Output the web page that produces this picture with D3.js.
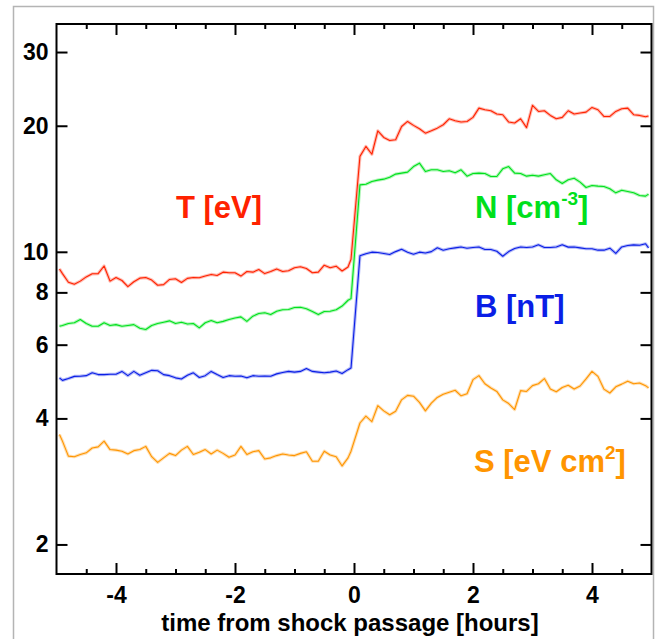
<!DOCTYPE html>
<html>
<head>
<meta charset="utf-8">
<script src="https://cdn.jsdelivr.net/npm/d3@7/dist/d3.min.js"></script>
<style>
  html, body { margin: 0; padding: 0; background: #fff; }
  svg { display: block; }
  text { font-family: "Liberation Sans", Arial, Helvetica, sans-serif; font-weight: bold; }
</style>
</head>
<body>
<script>
// Hours relative to shock passage (6-minute samples, shock between -0.05 h and 0.1 h)
const hours = [
  -4.95, -4.9, -4.8, -4.7, -4.6, -4.5, -4.4, -4.3, -4.2, -4.1,
  -4.0, -3.9, -3.8, -3.7, -3.6, -3.5, -3.4, -3.3, -3.2, -3.1,
  -3.0, -2.9, -2.8, -2.7, -2.6, -2.5, -2.4, -2.3, -2.2, -2.1,
  -2.0, -1.9, -1.8, -1.7, -1.6, -1.5, -1.4, -1.3, -1.2, -1.1,
  -1.0, -0.9, -0.8, -0.7, -0.6, -0.5, -0.4, -0.3, -0.2, -0.1,
  -0.05,
  0.1, 0.2, 0.3, 0.4, 0.5, 0.6, 0.7, 0.8, 0.9, 1.0,
  1.1, 1.2, 1.3, 1.4, 1.5, 1.6, 1.7, 1.8, 1.9, 2.0,
  2.1, 2.2, 2.3, 2.4, 2.5, 2.6, 2.7, 2.8, 2.9, 3.0,
  3.1, 3.2, 3.3, 3.4, 3.5, 3.6, 3.7, 3.8, 3.9, 4.0,
  4.1, 4.2, 4.3, 4.4, 4.5, 4.6, 4.7, 4.8, 4.9,
  4.95
];

// Electron temperature T [eV]
const temperature = [
  9.10, 8.87, 8.46, 8.37, 8.51, 8.71, 8.86, 8.87, 9.25, 8.51,
  8.68, 8.54, 8.26, 8.48, 8.65, 8.68, 8.56, 8.32, 8.35, 8.59,
  8.62, 8.45, 8.64, 8.68, 8.67, 8.75, 8.83, 8.78, 8.94, 8.91,
  8.91, 8.75, 8.97, 8.94, 9.07, 8.87, 8.97, 9.10, 8.97, 9.01,
  9.16, 9.21, 9.12, 8.91, 8.94, 9.29, 9.16, 9.24, 9.00, 9.20,
  9.60,
  16.9, 17.85, 17.1, 19.45, 18.76, 18.45, 18.52, 19.92, 20.48, 20.04,
  19.67, 19.2, 19.45, 19.74, 20.11, 20.78, 20.55, 20.41, 20.48, 20.94,
  22.04, 21.84, 21.72, 21.33, 21.25, 20.41, 20.3, 20.78, 19.8, 22.37,
  21.64, 21.72, 21.17, 20.78, 20.94, 21.72, 21.33, 21.45, 21.56, 22.12,
  21.84, 21.05, 21.05, 21.64, 21.96, 22.04, 21.25, 21.17, 21.02,
  21.1
];

// Density N [cm^-3]
const density = [
  6.64, 6.67, 6.74, 6.77, 6.89, 6.74, 6.64, 6.64, 6.77, 6.67,
  6.70, 6.64, 6.67, 6.70, 6.57, 6.52, 6.67, 6.74, 6.79, 6.84,
  6.74, 6.79, 6.72, 6.74, 6.58, 6.77, 6.85, 6.77, 6.82, 6.89,
  6.95, 6.99, 6.82, 7.02, 7.12, 7.15, 7.08, 7.21, 7.27, 7.28,
  7.36, 7.37, 7.31, 7.20, 7.08, 7.20, 7.21, 7.27, 7.42, 7.66,
  7.73,
  14.45, 14.5, 14.72, 14.83, 14.91, 15.07, 15.33, 15.41, 15.5, 15.98,
  16.28, 15.55, 15.7, 15.7, 15.55, 15.61, 15.44, 15.7, 15.16, 15.38,
  15.41, 15.38, 15.13, 15.13, 15.78, 15.98, 15.41, 15.38, 15.16, 15.24,
  15.16, 15.27, 15.38, 14.86, 14.56, 14.86, 14.99, 14.67, 14.24, 14.4,
  14.35, 14.32, 14.14, 13.83, 14.03, 13.93, 13.83, 13.63, 13.58,
  13.73
];

// Magnetic field B [nT]
const field = [
  5.00, 4.93, 4.98, 5.04, 5.045, 5.06, 5.14, 5.09, 5.09, 5.10,
  5.10, 5.18, 5.06, 5.18, 5.07, 5.14, 5.21, 5.20, 5.09, 5.06,
  5.00, 4.97, 5.07, 5.14, 5.01, 5.06, 5.18, 5.09, 5.01, 5.06,
  5.045, 5.05, 5.00, 5.06, 5.045, 5.05, 5.045, 5.11, 5.15, 5.18,
  5.16, 5.18, 5.26, 5.18, 5.16, 5.14, 5.16, 5.19, 5.12, 5.23,
  5.28,
  9.78, 9.89, 9.98, 9.96, 9.91, 9.85, 10.01, 10.14, 9.98, 9.87,
  9.98, 9.93, 10.01, 10.22, 10.09, 10.17, 10.22, 10.27, 10.2, 10.24,
  10.27, 10.13, 10.13, 10.03, 9.76, 10.01, 10.18, 10.27, 10.24, 10.27,
  10.39, 10.24, 10.24, 10.27, 10.39, 10.26, 10.27, 10.22, 10.17, 10.17,
  10.09, 10.09, 10.2, 9.91, 10.27, 10.35, 10.39, 10.37, 10.45,
  10.22
];

// Entropy S [eV cm^2]
const entropy = [
  3.66, 3.53, 3.25, 3.24, 3.28, 3.31, 3.40, 3.42, 3.53, 3.37,
  3.36, 3.34, 3.29, 3.35, 3.37, 3.43, 3.24, 3.14, 3.22, 3.30,
  3.26, 3.36, 3.43, 3.28, 3.32, 3.37, 3.29, 3.36, 3.30, 3.23,
  3.27, 3.43, 3.28, 3.33, 3.35, 3.20, 3.22, 3.26, 3.29, 3.27,
  3.26, 3.30, 3.33, 3.16, 3.16, 3.34, 3.27, 3.24, 3.08, 3.22,
  3.34,
  3.90, 4.05, 3.93, 4.29, 4.17, 4.08, 4.16, 4.43, 4.54, 4.52,
  4.37, 4.17, 4.35, 4.49, 4.57, 4.62, 4.67, 4.53, 4.58, 4.95,
  5.06, 4.84, 4.73, 4.64, 4.43, 4.34, 4.20, 4.66, 4.64, 4.79,
  4.84, 4.98, 4.70, 4.63, 4.74, 4.80, 4.70, 4.78, 4.97, 5.18,
  5.04, 4.70, 4.60, 4.76, 4.83, 4.91, 4.84, 4.86, 4.79,
  4.73
];

const yTickValues = [2, 4, 6, 8, 10, 20, 30];
const xMajorTicks = [-4, -2, 0, 2, 4];
const xMinorTicks = [-4.5, -3.5, -3, -2.5, -1.5, -1, -0.5, 0.5, 1, 1.5, 2.5, 3, 3.5, 4.5];
const xTitle = "time from shock passage [hours]";

const series = [
  { name: "T", values: temperature, color: "#ff2200" },
  { name: "N", values: density,     color: "#00e01c" },
  { name: "B", values: field,       color: "#0a1ee6" },
  { name: "S", values: entropy,     color: "#ff9500" }
];

const W = 663, H = 639;
const L = 56.5, R = 651.5, T = 24, B = 574;

const svg = d3.select("body").append("svg")
  .attr("width", W).attr("height", H);

// outer light frame
svg.append("rect")
  .attr("x", 13.5).attr("y", 6.5)
  .attr("width", 640).attr("height", 700)
  .attr("fill", "none").attr("stroke", "#b4b4b4").attr("stroke-width", 1.5);

const x = d3.scaleLinear().domain([-5, 5]).range([L, R]);
const y = d3.scaleLog().domain([1.7, 35]).range([B, T]);

svg.append("clipPath").attr("id", "plot-clip")
  .append("rect").attr("x", L).attr("y", T).attr("width", R - L).attr("height", B - T);

// data lines: a pale band under a thin trace
const line = d3.line()
  .x((d, i) => x(hours[i]))
  .y(d => y(d));

const lines = svg.append("g").attr("clip-path", "url(#plot-clip)");
series.forEach(s => {
  lines.append("path")
    .attr("d", line(s.values))
    .attr("fill", "none")
    .attr("stroke", s.color)
    .attr("stroke-opacity", 0.3)
    .attr("stroke-width", 3.2)
    .attr("stroke-linejoin", "round");
  lines.append("path")
    .attr("d", line(s.values))
    .attr("fill", "none")
    .attr("stroke", s.color)
    .attr("stroke-width", 1.1)
    .attr("stroke-linejoin", "round");
});

// axes
function styleAxis(g) {
  g.select(".domain").remove();
  g.selectAll(".tick line").attr("stroke", "#000").attr("stroke-width", 2);
  g.selectAll(".tick text")
    .attr("fill", "#000")
    .style("font-size", "23px")
    .style("font-family", '"Liberation Sans", Arial, Helvetica, sans-serif')
    .style("font-weight", "bold");
}

svg.append("g").attr("transform", `translate(0,${B})`)
  .call(d3.axisBottom(x).tickValues(xMajorTicks).tickSize(-11).tickSizeOuter(0)
    .tickPadding(13).tickFormat(d => String(d)))
  .call(styleAxis);
svg.append("g").attr("transform", `translate(0,${B})`)
  .call(d3.axisBottom(x).tickValues(xMinorTicks).tickSize(-5).tickSizeOuter(0).tickFormat(""))
  .call(styleAxis);
svg.append("g").attr("transform", `translate(0,${T})`)
  .call(d3.axisTop(x).tickValues(xMajorTicks).tickSize(-11).tickSizeOuter(0).tickFormat(""))
  .call(styleAxis);
svg.append("g").attr("transform", `translate(0,${T})`)
  .call(d3.axisTop(x).tickValues(xMinorTicks).tickSize(-5).tickSizeOuter(0).tickFormat(""))
  .call(styleAxis);

svg.append("g").attr("transform", `translate(${L},0)`)
  .call(d3.axisLeft(y).tickValues(yTickValues).tickSize(-11).tickSizeOuter(0)
    .tickPadding(8).tickFormat(d => String(d)))
  .call(styleAxis);
svg.append("g").attr("transform", `translate(${R},0)`)
  .call(d3.axisRight(y).tickValues(yTickValues).tickSize(-11).tickSizeOuter(0).tickFormat(""))
  .call(styleAxis);

// plot frame
svg.append("rect")
  .attr("x", L).attr("y", T).attr("width", R - L).attr("height", B - T)
  .attr("fill", "none").attr("stroke", "#000").attr("stroke-width", 2);

// x-axis title
svg.append("text")
  .attr("x", (L + R) / 2 - 4).attr("y", 631)
  .attr("text-anchor", "middle")
  .style("font-size", "24px")
  .text(xTitle);

// series labels
const labelSize = 31;
function label(xp, yp, color, parts) {
  const t = svg.append("text").attr("x", xp).attr("y", yp)
    .attr("fill", color).style("font-size", labelSize + "px");
  parts.forEach(p => {
    const ts = t.append("tspan").text(p.text);
    if (p.sup) ts.attr("dy", -13).style("font-size", "19px");
    if (p.down) ts.attr("dy", 13);
  });
}
label(176, 218, series[0].color, [{ text: "T [eV]" }]);
label(475, 218, series[1].color, [{ text: "N [cm" }, { text: "-3", sup: true }, { text: "]", down: true }]);
label(475, 317, series[2].color, [{ text: "B [nT]" }]);
label(474, 472, series[3].color, [{ text: "S [eV cm" }, { text: "2", sup: true }, { text: "]", down: true }]);
</script>
</body>
</html>
